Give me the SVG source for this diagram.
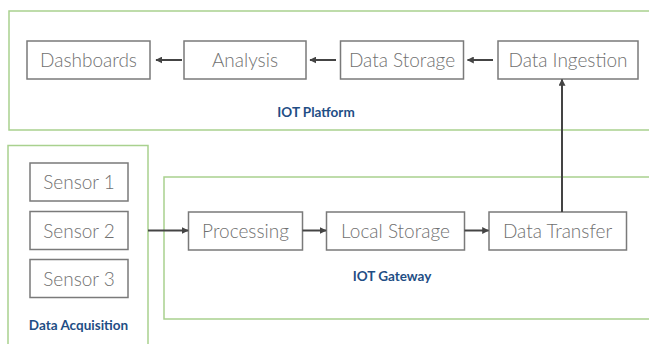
<svg xmlns="http://www.w3.org/2000/svg" width="649" height="344" viewBox="0 0 649 344">
<defs>
<marker id="ah" viewBox="0 0 10 10" refX="9" refY="5" markerWidth="7" markerHeight="7" markerUnits="userSpaceOnUse" orient="auto">
<path d="M0,0 L10,5 L0,10 z" fill="#444"/>
</marker>
<style>
.grp{fill:#fff;stroke:#a9d18e;stroke-width:1.5}
.box{fill:#fff;stroke:#7a7a7a;stroke-width:1.5}
.bt{font-family:Lato,"Liberation Sans",sans-serif;font-weight:300;font-size:19px;fill:#707070;text-anchor:middle;dominant-baseline:central}
.gl{font-family:Lato,"Liberation Sans",sans-serif;font-weight:700;font-size:13.5px;fill:#1f4e85;text-anchor:middle}
.con{stroke:#444;stroke-width:2;fill:none;marker-end:url(#ah)}
</style>
</defs>
<rect width="649" height="344" fill="#fff"/>
<g id="iot-platform">
<rect class="grp" x="9" y="11" width="660" height="119"/>
<text class="gl" x="316" y="117">IOT Platform</text>
</g>
<g id="data-acquisition">
<rect class="grp" x="8" y="145.5" width="140" height="210"/>
<text class="gl" x="78.5" y="330">Data Acquisition</text>
</g>
<g id="iot-gateway">
<rect class="grp" x="164" y="177" width="500" height="142"/>
<text class="gl" x="392" y="281">IOT Gateway</text>
</g>
<g id="dashboards"><rect class="box" x="27" y="41" width="123" height="38"/><text class="bt" x="88.5" y="59.5">Dashboards</text></g>
<g id="analysis"><rect class="box" x="184" y="41" width="122" height="38"/><text class="bt" x="245" y="59.5">Analysis</text></g>
<g id="data-storage"><rect class="box" x="340.5" y="41" width="123" height="38"/><text class="bt" x="402" y="59.5">Data Storage</text></g>
<g id="data-ingestion"><rect class="box" x="498" y="41" width="140" height="38"/><text class="bt" x="568" y="59.5">Data Ingestion</text></g>
<g id="sensor-1"><rect class="box" x="30" y="163" width="98" height="38"/><text class="bt" x="79" y="181.5">Sensor 1</text></g>
<g id="sensor-2"><rect class="box" x="30" y="211.5" width="98" height="38"/><text class="bt" x="79" y="230">Sensor 2</text></g>
<g id="sensor-3"><rect class="box" x="30" y="259.5" width="98" height="38"/><text class="bt" x="79" y="278">Sensor 3</text></g>
<g id="processing"><rect class="box" x="188.5" y="212" width="114" height="38"/><text class="bt" x="245.5" y="230.5">Processing</text></g>
<g id="local-storage"><rect class="box" x="326.5" y="212" width="138" height="38"/><text class="bt" x="395.5" y="230.5">Local Storage</text></g>
<g id="data-transfer"><rect class="box" x="489" y="212" width="137.5" height="38"/><text class="bt" x="557.5" y="230.5">Data Transfer</text></g>
<g id="connectors">
<line class="con" x1="182" y1="60" x2="156" y2="60"/>
<line class="con" x1="336" y1="60" x2="310" y2="60"/>
<line class="con" x1="493" y1="60" x2="467.5" y2="60"/>
<line class="con" x1="562" y1="212" x2="562" y2="79.5"/>
<line class="con" x1="148" y1="230.5" x2="188" y2="230.5"/>
<line class="con" x1="302.5" y1="230.5" x2="326" y2="230.5"/>
<line class="con" x1="464.5" y1="230.5" x2="488.5" y2="230.5"/>
</g>
</svg>
